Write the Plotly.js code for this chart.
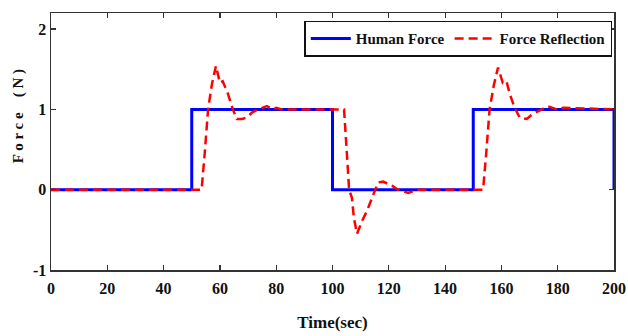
<!DOCTYPE html>
<html>
<head>
<meta charset="utf-8">
<script src="https://cdn.plot.ly/plotly-3.0.1.min.js"></script>
<style>html,body{margin:0;padding:0;background:#fff}#chart{width:628px;height:336px}</style>
</head>
<body>
<div id="chart"></div>
<script>
const humanT = [0, 50, 50, 100, 100, 150, 150, 200, 200];
const humanF = [0, 0, 1, 1, 0, 0, 1, 1, 0];

const reflT = [0, 53.5, 54.6, 55.8, 57.2, 58.6, 60, 61, 62.9, 64.6, 66, 67.9, 69.6, 71.4, 73.5, 76.7, 78.8, 80, 82, 100,
  104.1, 105.2, 105.9, 106.9, 107.6, 108.7, 110.5, 112.3, 114.1, 115.1, 116.2, 118, 121.1, 123.3, 126.9, 130, 150,
  153.5, 154.6, 155.8, 157.3, 158.8, 160.5, 161.8, 163, 164.7, 166.5, 169, 171, 174.4, 176.5, 179.7, 182, 200];
const reflF = [0, 0, 0.45, 1.0, 1.32, 1.54, 1.33, 1.35, 1.19, 1.0, 0.88, 0.88, 0.9, 0.96, 1.0, 1.04, 1.0, 1.02, 1.0, 1.0,
  1.0, 0.4, 0, -0.1, -0.35, -0.55, -0.39, -0.26, -0.1, 0, 0.09, 0.1, 0.05, 0, -0.04, 0, 0,
  0, 0.45, 1.0, 1.3, 1.52, 1.33, 1.35, 1.19, 1.02, 0.9, 0.88, 0.94, 1.0, 1.04, 1.0, 1.02, 1.0];

const xTicks = [0, 20, 40, 60, 80, 100, 120, 140, 160, 180, 200];
const yTicks = [-1, 0, 1, 2];
const yTitle = 'F o r c e    ( N )';
const xTitle = 'Time(sec)';

const serif = 'Liberation Serif, Times New Roman, serif';

const traces = [
  {x: humanT, y: humanF, name: 'Human Force', mode: 'lines', line: {color: '#0000ff', width: 3}},
  {x: reflT, y: reflF, name: 'Force Reflection', mode: 'lines', line: {color: '#ff0000', width: 2.5, dash: '9px,5px'}}
];

const axisCommon = {
  showgrid: false, zeroline: false, showline: true, linecolor: '#333', linewidth: 1.5,
  mirror: 'ticks', ticks: 'inside', ticklen: 5, tickcolor: '#333', tickwidth: 1.2,
  tickfont: {family: serif, size: 16, color: '#111', weight: 'bold'}
};

const layout = {
  width: 628, height: 336,
  margin: {l: 51, r: 14, t: 13, b: 66},
  paper_bgcolor: '#fff', plot_bgcolor: '#fff',
  showlegend: true,
  legend: {
    orientation: 'h', x: 0.997, xanchor: 'right', y: 0.97, yanchor: 'top',
    bordercolor: '#111', borderwidth: 1.5, bgcolor: '#fff',
    font: {family: serif, size: 15, color: '#111', weight: 'bold'},
    itemwidth: 40, traceorder: 'normal'
  },
  xaxis: Object.assign({}, axisCommon, {
    range: [0, 200], tickvals: xTicks, ticktext: xTicks.map(String),
    ticklabelstandoff: 3,
    title: {text: xTitle, font: {family: serif, size: 17, color: '#111', weight: 'bold'}, standoff: 20}
  }),
  yaxis: Object.assign({}, axisCommon, {
    range: [-1, 2.2], tickvals: yTicks, ticktext: yTicks.map(String),
    title: {text: ''}
  }),
  annotations: [{
    text: yTitle, xref: 'paper', yref: 'paper', x: -0.058, y: 0.6, xanchor: 'center', yanchor: 'middle',
    textangle: -90, showarrow: false, font: {family: serif, size: 15, color: '#111', weight: 'bold'}
  }]
};

Plotly.newPlot('chart', traces, layout, {displayModeBar: false, staticPlot: true});
</script>
</body>
</html>
